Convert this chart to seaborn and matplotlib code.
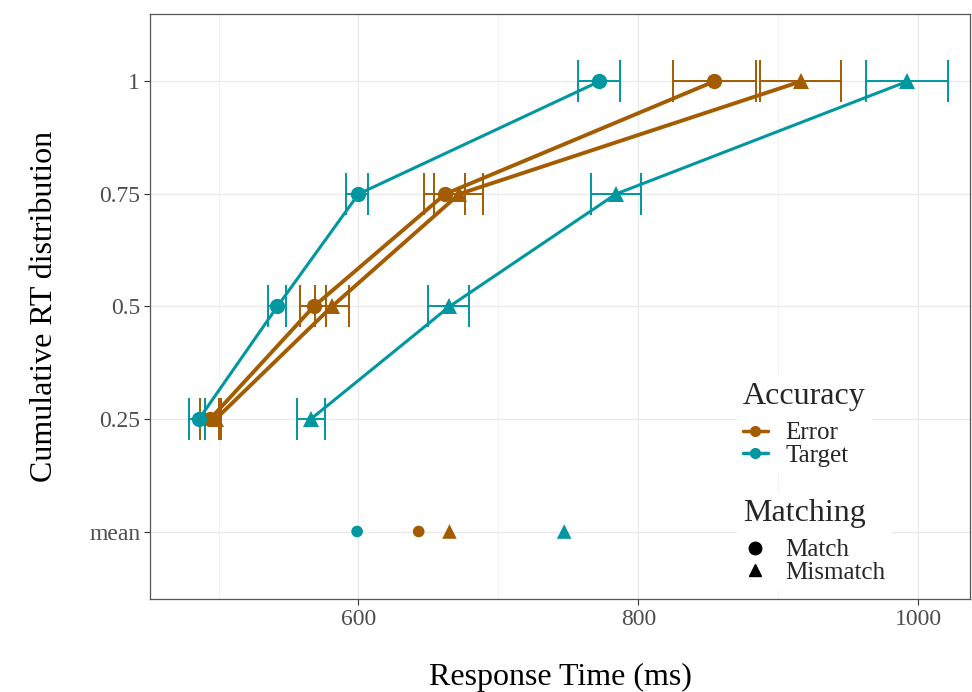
import numpy as np
import pandas as pd
import matplotlib
matplotlib.use("Agg")
import matplotlib.pyplot as plt
from matplotlib.lines import Line2D
from matplotlib.ticker import MultipleLocator
import seaborn as sns

# quantile levels (y positions 1..4), "mean" row at 0
quantiles = [0.25, 0.5, 0.75, 1]
ytick_labels = ["mean", "0.25", "0.5", "0.75", "1"]

# RT at each quantile (ms) and error bar limits
error_match = [494, 568, 662, 854]
error_match_lo = [487, 558, 647, 825]
error_match_hi = [500, 577, 676, 884]

error_mismatch = [498, 581, 672, 916]
error_mismatch_lo = [490, 569, 654, 887]
error_mismatch_hi = [502, 593, 689, 945]

target_match = [486, 542, 600, 772]
target_match_lo = [479, 535, 591, 757]
target_match_hi = [490, 548, 607, 787]

target_mismatch = [566, 665, 784, 992]
target_mismatch_lo = [556, 650, 766, 963]
target_mismatch_hi = [576, 679, 802, 1021]

# mean RTs
mean_rt = {"Target Match": 599, "Error Match": 643, "Error Mismatch": 665, "Target Mismatch": 747}

colors = {"Error": "#A35C00", "Target": "#0097A0"}
markers = {"Match": "o", "Mismatch": "^"}

rows = []
for acc, mat, vals, lo, hi in [
    ("Error", "Match", error_match, error_match_lo, error_match_hi),
    ("Error", "Mismatch", error_mismatch, error_mismatch_lo, error_mismatch_hi),
    ("Target", "Match", target_match, target_match_lo, target_match_hi),
    ("Target", "Mismatch", target_mismatch, target_mismatch_lo, target_mismatch_hi),
]:
    for i, q in enumerate(quantiles):
        rows.append({"Accuracy": acc, "Matching": mat, "q": q, "ypos": i + 1,
                     "rt": vals[i], "lo": lo[i], "hi": hi[i]})
df = pd.DataFrame(rows)

mean_df = pd.DataFrame({
    "Accuracy": [k.split()[0] for k in mean_rt],
    "Matching": [k.split()[1] for k in mean_rt],
    "rt": list(mean_rt.values()),
    "ypos": 0,
})

sns.set_theme(style="whitegrid")
plt.rcParams["font.family"] = ["Liberation Serif", "DejaVu Serif"]

fig = plt.figure(figsize=(9.72, 6.92), dpi=100)
ax = fig.add_axes([150 / 972, 93 / 692, 820 / 972, 585 / 692])

lw = {"Error": 2.8, "Target": 2.2}
for (acc, mat), sub in df.groupby(["Accuracy", "Matching"]):
    c = colors[acc]
    ax.errorbar(sub["rt"], sub["ypos"],
                xerr=[sub["rt"] - sub["lo"], sub["hi"] - sub["rt"]],
                fmt="none", ecolor=c, elinewidth=1.4, capsize=15, capthick=1.4, zorder=2)
    sns.lineplot(data=sub, x="rt", y="ypos", color=c, linewidth=lw[acc], sort=False,
                 estimator=None, marker=markers[mat], markersize=11 if mat == "Match" else 12,
                 markeredgewidth=0, ax=ax, zorder=3)

for _, r in mean_df.iterrows():
    sns.scatterplot(x=[r["rt"]], y=[r["ypos"]], color=colors[r["Accuracy"]],
                    marker=markers[r["Matching"]], s=70 if r["Matching"] == "Match" else 110,
                    edgecolor="none", ax=ax, zorder=3)

ax.set_xlim(451, 1037)
ax.set_ylim(-0.6, 4.6)
ax.set_yticks(range(5))
ax.set_yticklabels(ytick_labels)
ax.set_xticks([600, 800, 1000])
ax.xaxis.set_minor_locator(MultipleLocator(100))
ax.grid(True, which="major", color="#EBEBEB", linewidth=1.0)
ax.grid(True, which="minor", axis="x", color="#F3F3F3", linewidth=0.8)
ax.set_axisbelow(True)
for s in ax.spines.values():
    s.set_color("#555555")
    s.set_linewidth(0.9)
    s.set_zorder(6)
ax.tick_params(axis="both", which="major", length=4, width=0.8, color="#333333",
               labelsize=17, labelcolor="#4D4D4D", pad=3, bottom=True, left=True)
ax.tick_params(axis="x", which="minor", length=0)

ax.set_xlabel("Response Time (ms)", fontsize=23, labelpad=24, color="black")
ax.set_ylabel("Cumulative RT distribution", fontsize=23, labelpad=22, color="black")

acc_handles = [Line2D([0], [0], color=colors[a], lw=2.5, marker="o", markersize=7) for a in ["Error", "Target"]]
leg1 = ax.legend(acc_handles, ["Error", "Target"], title="Accuracy", loc="upper left",
                 bbox_to_anchor=(724 / 972, 1 - 363 / 692), bbox_transform=fig.transFigure,
                 frameon=True, facecolor="white", edgecolor="none", framealpha=1,
                 fontsize=18, title_fontsize=23, handlelength=1.0, handletextpad=0.7,
                 labelspacing=0.0, borderpad=0.25, alignment="left")
leg1._legend_box.sep = 8
ax.add_artist(leg1)

mat_handles = [Line2D([0], [0], color="black", lw=0, marker=markers[m], markersize=9) for m in ["Match", "Mismatch"]]
leg2 = ax.legend(mat_handles, ["Match", "Mismatch"], title="Matching", loc="upper left",
                 bbox_to_anchor=(724 / 972, 1 - 480 / 692), bbox_transform=fig.transFigure,
                 frameon=True, facecolor="white", edgecolor="none", framealpha=1,
                 fontsize=18, title_fontsize=23, handlelength=1.0, handletextpad=0.7,
                 labelspacing=0.0, borderpad=0.25, alignment="left")
leg2._legend_box.sep = 8

fig.savefig("out.png", dpi=100)
